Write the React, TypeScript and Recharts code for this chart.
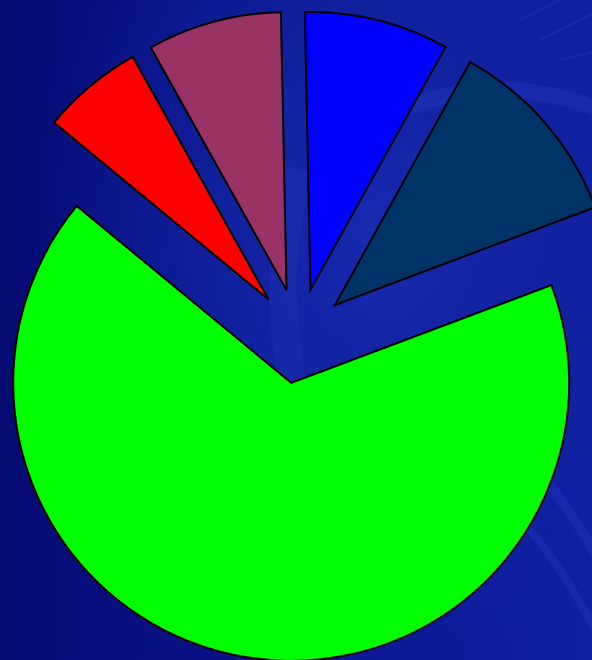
import React from "react";
import { PieChart, Pie, Cell } from "recharts";

const categories = ["Green", "Red", "Mauve", "Blue", "Navy"];
const values = [66.7, 5.9, 7.8, 8.4, 11.2];
const colors = ["#00FF00", "#FF0000", "#993366", "#0000FF", "#003366"];

const W = 592;
const H = 660;
const CX = 299;
const CY = 336;
const R = 278;
const EXPLODE = 47.5;
const START = 20.6;
const END = START - 360;

const data = categories.map((name, i) => ({ name, value: values[i] }));
const total = values.reduce((a, b) => a + b, 0);

const offsets = values.map((v, i) => {
  const cum = values.slice(0, i).reduce((a, b) => a + b, 0);
  const mid = START - ((cum + v / 2) / total) * 360;
  const rad = (mid * Math.PI) / 180;
  return { cx: CX + EXPLODE * Math.cos(rad), cy: CY - EXPLODE * Math.sin(rad) };
});

export default function App() {
  return (
    <div
      style={{
        position: "absolute",
        left: 0,
        top: 0,
        width: W,
        height: H,
        overflow: "hidden",
        background:
          "radial-gradient(ellipse 60% 70% at 65% 35%, #1a2ab2 0%, #1222a0 40%, rgba(10,18,140,0) 100%), linear-gradient(90deg, #060b74 0%, #0a1288 45%, #1020a4 100%)",
      }}
    >
      <svg width={W} height={H} style={{ position: "absolute", left: 0, top: 0 }}>
        <g fill="none" stroke="#3848d4" strokeOpacity={0.22}>
          <path d="M 400 110 Q 500 70 600 110" strokeWidth={16} />
          <path d="M 520 20 L 560 0 M 540 40 L 600 10 M 560 60 L 600 50" strokeWidth={3} />
          <path d="M 540 470 Q 575 520 600 560" strokeWidth={10} />
          <path d="M 520 520 Q 560 560 600 640" strokeWidth={8} />
          <path d="M 300 170 Q 270 260 292 380" strokeWidth={28} strokeOpacity={0.15} />
        </g>
      </svg>
      <div style={{ position: "absolute", left: 0, top: 0 }}>
        <PieChart width={W} height={H} margin={{ top: 0, right: 0, bottom: 0, left: 0 }}>
          {data.map((_, i) => (
            <Pie
              key={categories[i]}
              data={data}
              dataKey="value"
              nameKey="name"
              cx={offsets[i].cx}
              cy={offsets[i].cy}
              outerRadius={R}
              innerRadius={0}
              startAngle={START}
              endAngle={END}
              isAnimationActive={false}
              label={false}
              labelLine={false}
            >
              {data.map((__, j) => (
                <Cell
                  key={categories[j]}
                  fill={j === i ? colors[j] : "none"}
                  stroke={j === i ? "#000" : "none"}
                  strokeWidth={j === i ? 2 : 0}
                />
              ))}
            </Pie>
          ))}
        </PieChart>
      </div>
    </div>
  );
}
